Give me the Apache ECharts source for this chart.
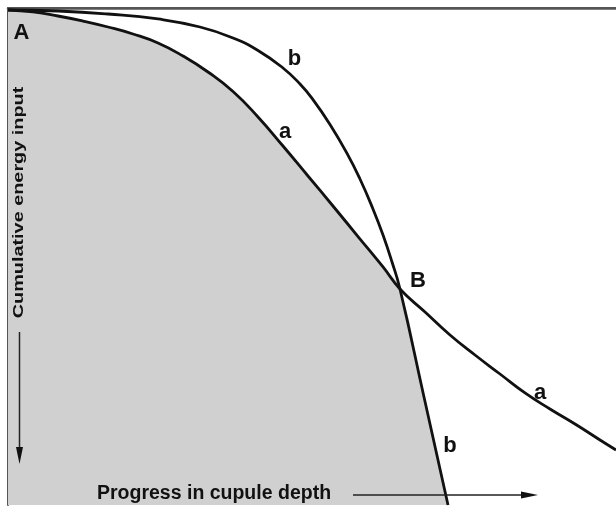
<!DOCTYPE html>
<html>
<head>
<meta charset="utf-8">
<script src="https://cdn.jsdelivr.net/npm/echarts@6/dist/echarts.min.js"></script>
<style>html,body{margin:0;padding:0;background:#fff;}#c{width:616px;height:506px;}</style>
</head>
<body>
<div id="c"></div>
<script>
// Progress in cupule depth (0-100) vs cumulative energy input (0-100, increasing downward)
const curveA = [[0,0.40],[4.11,0.80],[8.22,1.61],[12.34,2.62],[16.45,3.82],[20.56,5.23],[24.67,7.04],[28.78,9.66],[32.89,12.88],[37.01,16.80],[41.12,21.93],[45.23,27.77],[49.34,33.80],[53.45,39.84],[57.57,45.98],[61.68,52.11],[64.47,56.54],[68.59,61.17],[72.70,65.79],[76.81,69.82],[80.92,73.64],[85.03,77.46],[89.14,80.68],[93.26,83.70],[97.37,86.92],[100,88.93]];
const curveB = [[0,0.40],[8.22,0.60],[16.45,1.21],[24.67,2.21],[31.58,3.82],[37.01,6.04],[41.12,8.55],[45.23,12.07],[48.03,15.29],[50.16,18.43],[52.96,23.44],[55.76,29.26],[57.89,34.41],[60.03,40.44],[61.68,45.67],[63.16,51.11],[64.47,56.54],[68.42,78.27],[72.37,100]];
const pointB = [64.47,56.54];

const fillData = curveA.filter(p => p[0] <= pointB[0]).concat(curveB.filter(p => p[0] > pointB[0]));

const chart = echarts.init(document.getElementById('c'));
const axisCommon = {type:'value', min:0, max:100, axisLabel:{show:false}, axisTick:{show:false}, splitLine:{show:false}};
const lineColor = '#111';
const font = 'bold 22px "Liberation Sans", Arial, sans-serif';
const sm = 0.5;
chart.setOption({
  animation:false,
  backgroundColor:'#fff',
  grid:{left:8, top:8, width:608, height:497},
  xAxis:[
    Object.assign({position:'bottom', axisLine:{show:true, lineStyle:{color:'#555', width:2}}}, axisCommon),
    Object.assign({position:'top', axisLine:{show:true, lineStyle:{color:'#555', width:2.5}}}, axisCommon)
  ],
  yAxis:Object.assign({inverse:true, axisLine:{show:true, lineStyle:{color:'#555', width:2}}}, axisCommon),
  series:[
    {type:'line', data:fillData, smooth:sm, symbol:'none', lineStyle:{width:0}, areaStyle:{color:'#d0d0d0', opacity:1, origin:'end'}, z:1},
    {type:'line', data:curveA, smooth:sm, symbol:'none', lineStyle:{color:lineColor, width:2.8}, z:3},
    {type:'line', data:curveB, smooth:sm, symbol:'none', lineStyle:{color:lineColor, width:2.8}, z:3}
  ],
  graphic:[
    {type:'text', z:10, style:{x:21.5, y:33, text:'A', font:font, fill:lineColor, textAlign:'center', textVerticalAlign:'middle'}},
    {type:'text', z:10, style:{x:418, y:281, text:'B', font:font, fill:lineColor, textAlign:'center', textVerticalAlign:'middle'}},
    {type:'text', z:10, style:{x:294.5, y:59, text:'b', font:font, fill:lineColor, textAlign:'center', textVerticalAlign:'middle'}},
    {type:'text', z:10, style:{x:285, y:132, text:'a', font:font, fill:lineColor, textAlign:'center', textVerticalAlign:'middle'}},
    {type:'text', z:10, style:{x:540, y:393, text:'a', font:font, fill:lineColor, textAlign:'center', textVerticalAlign:'middle'}},
    {type:'text', z:10, style:{x:450, y:446, text:'b', font:font, fill:lineColor, textAlign:'center', textVerticalAlign:'middle'}},
    {type:'text', z:10, style:{x:97, y:494, text:'Progress in cupule depth', font:'bold 19.5px "Liberation Sans", Arial, sans-serif', fill:lineColor, textAlign:'left', textVerticalAlign:'middle'}},
    {type:'line', z:10, shape:{x1:353, y1:495, x2:524, y2:495}, style:{stroke:'#222', lineWidth:1.5}},
    {type:'polygon', z:10, shape:{points:[[521,491.5],[538,495],[521,498.5]]}, style:{fill:'#111'}},
    {type:'text', z:10, x:19, y:202.5, rotation:Math.PI/2, scaleX:1.28, style:{x:0, y:0, text:'Cumulative energy input', font:'bold 15.5px "Liberation Sans", Arial, sans-serif', fill:lineColor, textAlign:'center', textVerticalAlign:'middle'}},
    {type:'line', z:10, shape:{x1:19.5, y1:332, x2:19.5, y2:450}, style:{stroke:'#222', lineWidth:1.5}},
    {type:'polygon', z:10, shape:{points:[[16,447],[23,447],[19.5,464]]}, style:{fill:'#111'}}
  ]
});
</script>
</body>
</html>
